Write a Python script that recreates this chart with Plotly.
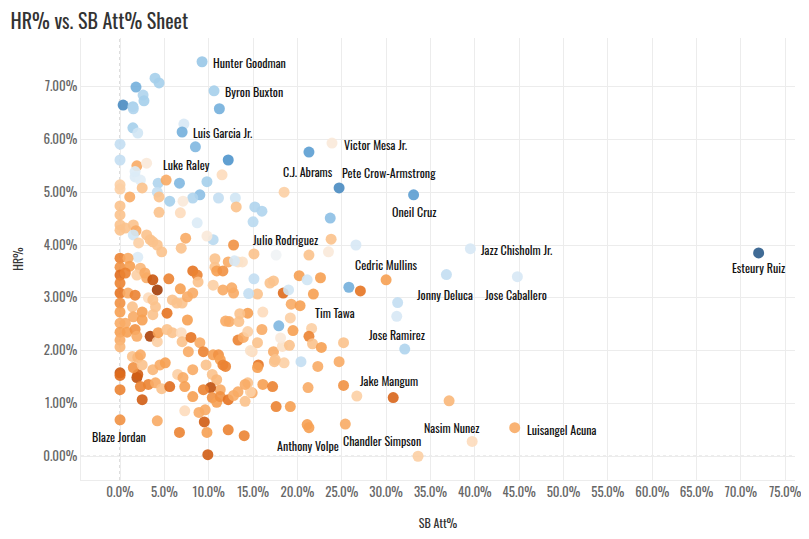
import plotly.graph_objects as go

# ---- unlabeled players: SB Att% (x), HR% (y), colour score (-1 orange .. +1 blue)
sb_att = [3.95, 4.4, 1.8, 2.6, 2.7, 0.35, 1.45, 1.5, 11.2, 7.2, 1.45, 2.0, 0.0, 8.5, 0.0, 1.9, 3.0,
          18.5, 15.2, 16.0, 15.0, 23.7, 26.6, 15.1, 17.6, 21.3, 23.5, 15.1, 16.9, 20.2, 21.1, 22.6,
          18.4, 19.0, 21.8, 25.8, 27.1, 15.5,
          31.3, 31.2, 19.3, 16.1, 19.2, 17.9, 16.0, 19.5, 21.6, 21.3, 21.7, 22.7, 25.2, 17.3, 18.3,
          14.9, 15.6, 15.5, 17.4, 18.5, 20.4, 22.3, 24.7, 16.1, 17.2, 14.9, 21.2, 26.7, 30.8, 37.1,
          17.6, 19.2, 21.1, 33.6,
          1.7, 2.3, 0.0, 0.0, 2.5, 4.3, 5.2, 4.2, 4.4, 6.7, 9.8, 11.5, 9.0, 8.2, 5.6, 7.1, 11.1, 13.0,
          13.1, 1.1, 0.0, 0.0, 4.4, 6.8, 8.7, 10.5, 0.0, 0.0, 0.6, 1.5, 1.8, 1.5, 3.0, 3.4, 3.7, 4.2,
          4.7, 2.1, 7.4, 6.9, 9.8, 12.8, 2.0, 0.0, 0.0, 0.0, 0.0, 0.0, 0.9, 1.1, 2.3, 1.9, 0.6, 2.8,
          3.0, 3.7, 4.2, 5.5, 6.8, 8.2, 8.7, 8.8, 10.7, 10.7, 12.2, 13.3, 13.8, 10.9, 11.6, 10.5, 11.6,
          12.6, 12.8, 17.3,
          0.0, 0.0, 0.0, 0.0, 0.0, 0.0, 0.9, 1.7, 3.2, 3.7, 1.4, 1.5, 2.5, 2.5, 4.0, 3.7, 5.3, 5.9,
          6.4, 7.0, 7.6, 8.2, 7.6, 0.6, 0.8, 1.7, 1.9, 3.4, 4.2, 4.3, 5.3, 5.9, 6.9, 7.0, 8.0, 7.7,
          9.0, 9.4, 9.7, 10.5, 11.1, 11.3, 11.6, 11.9, 10.4, 10.9, 11.3, 10.2, 8.2, 6.5, 7.1, 7.3,
          8.2, 9.4, 10.4, 10.9, 11.3, 12.2, 12.8, 14.1, 0.0, 0.0, 0.0, 1.9, 2.0, 1.5, 2.3, 3.2, 2.5,
          4.0, 4.7, 5.6, 1.4, 2.0, 2.5, 2.3, 3.7, 4.5, 5.1, 4.2, 7.3, 8.9, 9.6, 9.5, 6.7, 9.8, 12.2,
          14.0, 9.9, 12.3, 13.4, 13.3, 13.9, 14.4, 14.4, 14.7, 17.5, 14.4, 14.7, 14.1, 13.3,
          12.9, 14.5, 11.9, 13.5, 15.5, 18.1, 19.1, 1.7]
hr_pct = [7.16, 7.07, 6.99, 6.84, 6.73, 6.65, 6.62, 6.58, 6.58, 6.29, 6.22, 6.12, 5.91, 5.86, 5.61, 5.50, 5.55,
          5.00, 4.72, 4.64, 4.44, 4.51, 4.00, 3.83, 3.81, 3.81, 3.87, 3.36, 3.28, 3.42, 3.34, 3.38,
          3.09, 3.15, 3.07, 3.20, 3.13, 3.07,
          2.91, 2.65, 2.88, 2.73, 2.62, 2.47, 2.40, 2.38, 2.42, 2.27, 2.13, 2.06, 2.15, 1.98, 2.08,
          1.98, 1.73, 1.68, 1.79, 1.77, 1.79, 1.70, 1.79, 1.36, 1.32, 1.20, 1.30, 1.14, 1.11, 1.05,
          0.94, 0.94, 0.60, 0.00,
          5.29, 5.23, 5.14, 5.06, 5.08, 5.17, 5.23, 5.00, 4.91, 5.17, 5.20, 5.33, 4.95, 4.89, 4.83, 4.83, 4.89, 4.89,
          4.72, 4.91, 4.74, 4.57, 4.62, 4.61, 4.42, 4.10, 4.38, 4.28, 4.32, 4.38, 4.27, 4.19, 4.19, 4.10, 4.06, 4.00,
          3.87, 4.04, 4.13, 3.94, 4.17, 4.00, 3.77, 3.75, 3.58, 3.43, 3.28, 3.09, 3.75, 3.60, 3.56, 3.43, 3.47, 3.47,
          3.38, 3.34, 3.15, 3.36, 3.17, 3.51, 3.43, 3.30, 3.74, 3.58, 3.68, 3.68, 3.68, 3.51, 3.51, 3.24, 3.15,
          3.19, 3.09, 3.32,
          2.90, 2.73, 2.52, 2.35, 2.20, 2.07, 3.09, 3.05, 3.00, 2.96, 2.83, 2.64, 2.73, 2.58, 2.83, 2.68, 2.71, 2.96,
          2.90, 2.90, 3.02, 3.09, 2.58, 2.52, 2.35, 2.40, 2.27, 2.27, 2.17, 2.34, 2.40, 2.34, 2.34, 2.17, 2.25, 1.98,
          2.15, 1.98, 1.73, 1.92, 1.92, 1.83, 1.73, 1.70, 1.55, 1.45, 1.26, 1.30, 1.64, 1.55, 1.49, 1.32,
          1.13, 1.26, 1.11, 1.02, 1.13, 1.07, 1.15, 1.04, 1.58, 1.53, 1.26, 1.49, 1.55, 1.68, 1.32, 1.36, 1.07,
          1.39, 1.28, 1.32, 1.89, 1.87, 1.73, 1.92, 1.64, 1.73, 1.77, 0.67, 0.86, 0.83, 0.88, 0.65, 0.45, 0.45, 0.50,
          0.39, 0.03, 2.55, 2.55, 2.20, 2.25, 2.36, 2.71, 2.00, 1.83, 1.39, 1.22, 1.36, 1.22,
          3.70, 3.08, 2.56, 2.70, 2.15, 2.24, 2.10, 5.39]
score = [0.35, 0.35, 0.55, 0.3, 0.35, 0.75, 0.35, 0.3, 0.55, 0.12, 0.35, 0.15, 0.2, 0.5, 0.2, -0.3, -0.05,
         -0.15, 0.3, 0.3, 0.25, 0.45, 0.12, -0.2, 0.02, -0.2, -0.05, 0.2, -0.2, -0.35, 0.15, -0.35,
         -0.55, 0.15, -0.35, 0.55, -0.5, -0.2,
         0.2, 0.12, -0.3, -0.1, -0.15, 0.5, -0.3, -0.35, -0.15, -0.45, -0.2, -0.35, -0.2, -0.3, -0.08,
         -0.1, -0.5, -0.35, -0.2, -0.15, 0.2, -0.3, -0.3, -0.35, -0.45, -0.3, -0.3, -0.15, -0.6, -0.25,
         -0.45, -0.35, -0.35, -0.15,
         0.1, 0.08, -0.15, -0.15, -0.2, 0.3, -0.3, 0.2, -0.2, 0.5, 0.35, -0.1, 0.45, 0.3, 0.35, -0.05, 0.2, 0.15,
         -0.2, -0.3, -0.2, -0.2, -0.2, -0.1, 0.1, 0.25, -0.2, -0.2, -0.2, -0.2, -0.3, 0.15, -0.2, -0.2, -0.2, -0.2,
         -0.2, -0.15, -0.3, -0.2, -0.05, -0.4, 0.1, -0.45, -0.4, -0.55, -0.45, -0.5, -0.3, -0.35, -0.25, -0.15, -0.45, -0.3,
         -0.3, -0.7, -0.9, -0.45, -0.35, -0.5, -0.45, -0.2, -0.2, -0.2, -0.3, -0.08, -0.08, -0.35, -0.4, -0.15, -0.3,
         -0.3, -0.3, -0.2,
         -0.4, -0.35, -0.3, -0.35, -0.3, -0.25, -0.3, -0.45, -0.1, -0.2, -0.2, -0.3, -0.35, -0.35, -0.2, -0.2, -0.5, -0.2,
         -0.2, -0.2, -0.3, -0.3, -0.35, -0.3, -0.35, -0.4, -0.3, -0.85, -0.15, -0.35, -0.2, -0.2, -0.1, -0.2, -0.5, -0.3,
         -0.3, -0.45, -0.2, -0.35, -0.4, -0.35, -0.45, -0.45, -0.2, -0.25, -0.3, -0.75, -0.3, -0.15, -0.3, -0.35,
         -0.35, -0.45, -0.4, -0.35, -0.4, -0.5, -0.3, -0.2, -0.7, -0.55, -0.45, -0.75, -0.65, -0.4, -0.45, -0.45, -0.65,
         -0.3, -0.2, -0.55, -0.2, -0.25, -0.2, -0.3, -0.25, -0.3, -0.35, -0.3, -0.1, -0.3, -0.3, -0.65, -0.45, -0.35, -0.45,
         -0.45, -0.65, -0.3, -0.2, -0.45, -0.3, -0.15, -0.35, -0.08, -0.2, -0.2, -0.15, -0.3, -0.3,
         0.12, 0.2, -0.3, -0.2, -0.2, -0.05, -0.2, 0.1]

# ---- labeled players
label_names = ["Hunter Goodman", "Byron Buxton", "Luis Garcia Jr.", "Luke Raley", "C.J. Abrams",
               "Victor Mesa Jr.", "Pete Crow-Armstrong", "Oneil Cruz", "Julio Rodriguez",
               "Jazz Chisholm Jr.", "Esteury Ruiz", "Cedric Mullins", "Jonny Deluca", "Jose Caballero",
               "Tim Tawa", "Jose Ramirez", "Jake Mangum", "Nasim Nunez", "Luisangel Acuna",
               "Chandler Simpson", "Anthony Volpe", "Blaze Jordan"]
label_sb = [9.25, 10.6, 7.0, 12.2, 21.3, 23.9, 24.7, 33.1, 23.8, 39.5, 72.0, 30.0, 36.8, 44.8,
            20.3, 32.1, 25.2, 39.7, 44.5, 25.4, 21.3, 0.0]
label_hr = [7.47, 6.92, 6.14, 5.61, 5.76, 5.93, 5.08, 4.95, 4.11, 3.93, 3.85, 3.34, 3.44, 3.40,
            2.85, 2.03, 1.34, 0.28, 0.54, 0.61, 0.54, 0.69]
label_score = [0.4, 0.35, 0.55, 0.7, 0.65, -0.05, 0.75, 0.65, -0.2, 0.12, 1.0, -0.35, 0.2, 0.12,
               -0.35, 0.3, -0.4, -0.1, -0.3, -0.3, -0.35, -0.4]
# label placement: (xanchor, x pixel shift, y pixel shift downward)
label_place = [("left", 9, 1), ("left", 9, 1), ("left", 9, 0), ("right", -16, 5), ("center", -1, 19),
               ("left", 10, 1), ("left", 1, -15), ("center", 1, 17), ("right", -11, 0),
               ("left", 9, 1), ("center", 0, 15), ("center", 0, -15), ("center", -1, 20), ("center", -1, 18),
               ("left", 13, 7), ("center", -8, -15), ("left", 14, -5), ("center", -20, -14), ("left", 10, 2),
               ("left", -4, 16), ("center", -1, 18), ("center", -1, 17)]

x_ticks = list(range(0, 80, 5))
y_ticks = list(range(0, 8))

FONT = "Oswald, 'Liberation Sans Narrow', 'DejaVu Sans Condensed', sans-serif"

colorscale = [
    [0.0, "#8f3004"], [0.15, "#c9560f"], [0.25, "#e67422"], [0.325, "#f6a052"],
    [0.4, "#fbc28c"], [0.45, "#fddcbd"], [0.5, "#f5f5f5"], [0.55, "#dcebf6"],
    [0.6, "#c3def2"], [0.675, "#a5cfeb"], [0.75, "#7fb7e0"], [0.85, "#4f95cc"], [1.0, "#2b5b8a"],
]

all_x = sb_att + label_sb
all_y = hr_pct + label_hr
all_c = score + label_score

fig = go.Figure()
fig.add_trace(go.Scatter(
    x=all_x, y=all_y, mode="markers",
    marker=dict(size=11, color=all_c, colorscale=colorscale, cmin=-1, cmax=1,
                opacity=0.9, line=dict(width=0)),
    hoverinfo="skip", showlegend=False,
))

annotations = []
for name, xv, yv, (anc, dx, dy) in zip(label_names, label_sb, label_hr, label_place):
    annotations.append(dict(
        x=xv, y=yv, xref="x", yref="y", text=name, showarrow=False,
        xanchor=anc, yanchor="middle", xshift=dx, yshift=-dy,
        font=dict(family=FONT, size=12, color="#111111"),
    ))

fig.update_layout(
    width=809, height=539,
    margin=dict(l=73, r=22, t=30, b=67),
    paper_bgcolor="white", plot_bgcolor="white",
    title=dict(text="HR% vs. SB Att% Sheet", x=0.003, xref="container", xanchor="left",
               y=0.974, yref="container", yanchor="middle",
               font=dict(family=FONT, size=20, color="#333333")),
    font=dict(family=FONT, color="#555555"),
    annotations=annotations,
    shapes=[
        dict(type="line", xref="x", yref="paper", x0=0, x1=0, y0=0, y1=1,
             line=dict(color="#bbbbbb", width=1, dash="dot"), layer="below"),
        dict(type="line", xref="paper", yref="y", x0=0, x1=1, y0=0, y1=0,
             line=dict(color="#bbbbbb", width=1, dash="dot"), layer="below"),
    ],
)
fig.update_xaxes(
    range=[-4.4, 76.1], tickvals=x_ticks, ticktext=[f"{v:.1f}%" for v in x_ticks],
    showgrid=True, gridcolor="#ececec", zeroline=False, automargin=False,
    showline=True, linecolor="#ececec", ticks="",
    tickfont=dict(family=FONT, size=13, color="#666666"),
    title=dict(text="SB Att%", font=dict(family=FONT, size=12, color="#333333"), standoff=20),
)
fig.update_yaxes(
    range=[-0.45, 7.92], tickvals=y_ticks, ticktext=[f"{v:.2f}%" for v in y_ticks],
    showgrid=True, gridcolor="#ececec", zeroline=False, automargin=False,
    showline=True, linecolor="#ececec", ticks="",
    tickfont=dict(family=FONT, size=13, color="#666666"),
    title=dict(text="HR%", font=dict(family=FONT, size=12, color="#333333"), standoff=16),
)

fig.write_html("out.html")
